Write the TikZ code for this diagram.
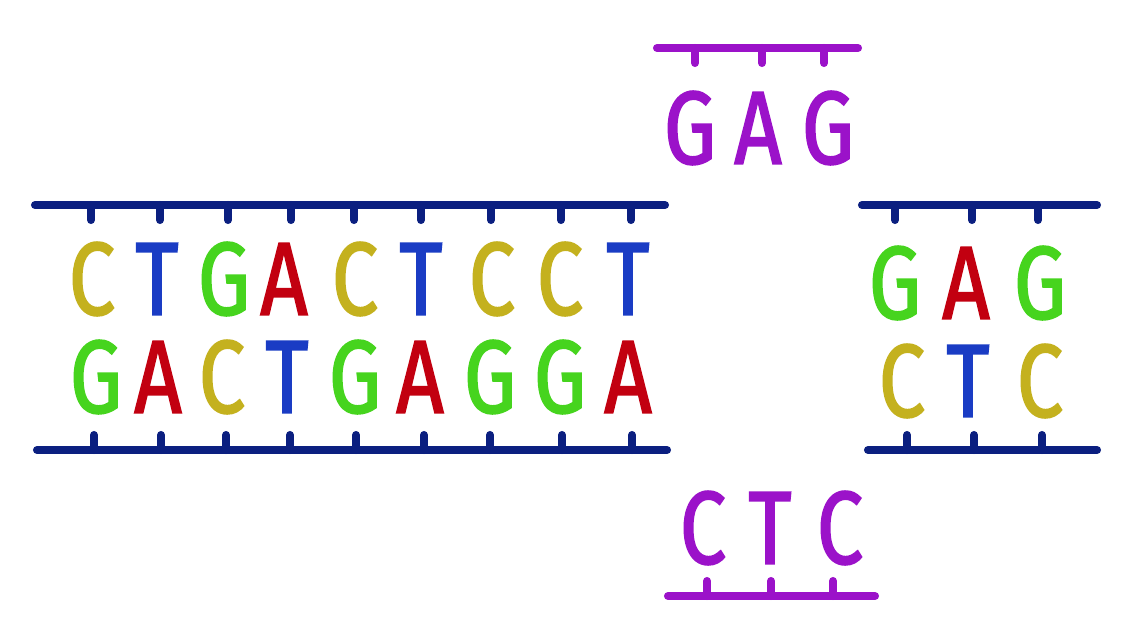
\documentclass[tikz,border=0pt]{standalone}
\usepackage{fontspec}
\newfontfamily\dnafont[FakeStretch=0.8, FakeBold=1.6]{Fira Sans}
\definecolor{navy}{HTML}{0B1F80}
\definecolor{cytC}{HTML}{C4B11E}
\definecolor{thyT}{HTML}{1A3CC4}
\definecolor{guaG}{HTML}{46D41E}
\definecolor{adeA}{HTML}{C20010}
\definecolor{rnaP}{HTML}{9B12C9}
\begin{document}
\begin{tikzpicture}[
        x=0.02cm, y=-0.02cm,
        base/.style={inner sep=0pt, font=\dnafont\fontsize{59}{59}\selectfont},
        C/.style={base, text=cytC},
        T/.style={base, text=thyT},
        G/.style={base, text=guaG},
        A/.style={base, text=adeA},
        P/.style={base, text=rnaP},
        backbone/.style={draw=navy, line width=4.6pt, line cap=round},
        rnabone/.style={draw=rnaP, line width=4.6pt, line cap=round},
    ]
    \fill[white] (0,0) rectangle (1136,639);
    \useasboundingbox (0,0) rectangle (1136,639);

    % left double strand
    \draw[backbone] (35,205) -- (665,205);
    \draw[backbone] (37,450) -- (667,450);
    \foreach \x in {91,160,228,291,354,421,491,561,631}
        \draw[backbone] (\x,205) -- (\x,220);
    \foreach \x in {94,161,226,290,356,424,490,562,632}
        \draw[backbone] (\x,450) -- (\x,435);

    \node[C](c1) at (92,279){C};
    \node[T](t1) at (157,279){T};
    \node[G](g1) at (224,279){G};
    \node[A](a1) at (284,279){A};
    \node[C](c2) at (355,279){C};
    \node[T](t2) at (421,279){T};
    \node[C](c3) at (492,279){C};
    \node[C](c4) at (560,279){C};
    \node[T](t3) at (628,279){T};

    \node[G](g2) at (96,377){G};
    \node[A](a2) at (158,377){A};
    \node[C](c5) at (222,377){C};
    \node[T](t4) at (287,377){T};
    \node[G](g3) at (355,377){G};
    \node[A](a3) at (420,377){A};
    \node[G](g4) at (490,377){G};
    \node[G](g5) at (560,377){G};
    \node[A](a4) at (628,377){A};

    % right double strand
    \draw[backbone] (862,205) -- (1097,205);
    \draw[backbone] (868,450) -- (1097,450);
    \foreach \x in {895,972,1038}
        \draw[backbone] (\x,205) -- (\x,220);
    \foreach \x in {907,974,1042}
        \draw[backbone] (\x,450) -- (\x,435);

    \node[G](g6) at (895,283){G};
    \node[A](a5) at (966,283){A};
    \node[G](g7) at (1040,283){G};
    \node[C](c6) at (902,381){C};
    \node[T](t5) at (968,381){T};
    \node[C](c7) at (1040,381){C};

    % purple pieces
    \draw[rnabone] (657,48) -- (858,48);
    \foreach \x in {695,762,824}
        \draw[rnabone] (\x,48) -- (\x,63);
    \node[P](g8) at (690,128){G};
    \node[P](a6) at (758,128){A};
    \node[P](g9) at (828,128){G};

    \draw[rnabone] (668,596) -- (875,596);
    \foreach \x in {707,771,833}
        \draw[rnabone] (\x,596) -- (\x,581);
    \node[P](c8) at (703,528){C};
    \node[P](t6) at (770,528){T};
    \node[P](c9) at (840,528){C};
\end{tikzpicture}
\end{document}
